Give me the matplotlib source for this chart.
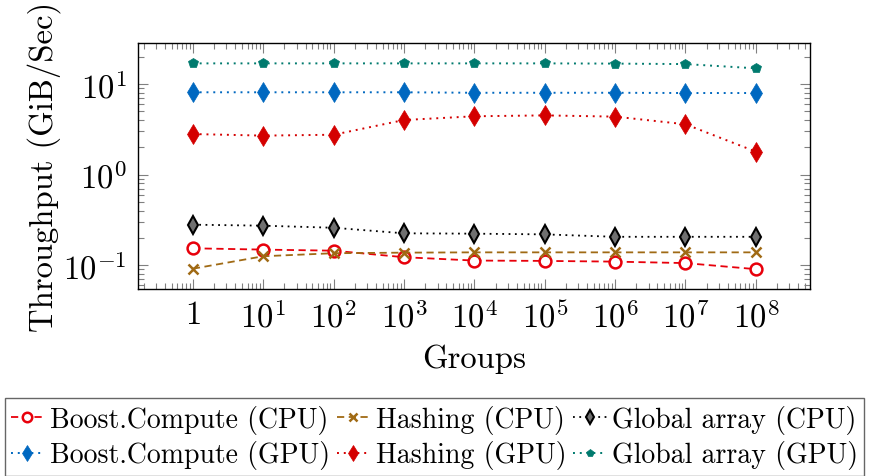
import matplotlib
matplotlib.use("Agg")
import matplotlib.pyplot as plt
from matplotlib.ticker import LogLocator, FixedLocator, FixedFormatter, NullFormatter

plt.rcParams['font.family'] = ['cmr10', 'DejaVu Serif']
plt.rcParams['mathtext.fontset'] = 'cm'
plt.rcParams['axes.unicode_minus'] = False
plt.rcParams['axes.formatter.use_mathtext'] = True

groups = [1, 1e1, 1e2, 1e3, 1e4, 1e5, 1e6, 1e7, 1e8]
x_labels = ['1', '$10^{1}$', '$10^{2}$', '$10^{3}$', '$10^{4}$', '$10^{5}$', '$10^{6}$', '$10^{7}$', '$10^{8}$']
y_ticks = [0.1, 1, 10]
y_labels = ['$10^{-1}$', '$10^{0}$', '$10^{1}$']

boost_cpu = [0.153, 0.148, 0.144, 0.122, 0.112, 0.111, 0.109, 0.105, 0.090]
hash_cpu = [0.091, 0.125, 0.135, 0.137, 0.138, 0.138, 0.138, 0.138, 0.138]
glob_cpu = [0.279, 0.272, 0.258, 0.224, 0.222, 0.218, 0.205, 0.205, 0.205]
boost_gpu = [8.1, 8.1, 8.1, 8.1, 8.0, 8.0, 8.0, 7.95, 7.95]
hash_gpu = [2.80, 2.69, 2.75, 4.0, 4.4, 4.5, 4.36, 3.59, 1.79]
glob_gpu = [16.9, 16.9, 16.9, 16.9, 16.9, 16.9, 16.8, 16.6, 14.9]

fig = plt.figure(figsize=(8.69, 4.77), dpi=100)
ax = fig.add_axes([138/869, 1-290/477, (810-138)/869, (290-44)/477])
ax.set_xscale('log')
ax.set_yscale('log')

fs = 23.5
lfs = 20
l1, = ax.plot(groups, boost_cpu, linestyle=(0, (4, 2.5)), color='#e8000b', lw=1.3,
              marker='o', markersize=8.5, markerfacecolor='white', markeredgewidth=1.8, label='Boost.Compute (CPU)')
l2, = ax.plot(groups, hash_cpu, linestyle=(0, (4, 2.5)), color='#a06a14', lw=1.3,
              marker='x', markersize=6.5, markeredgewidth=1.8, label='Hashing (CPU)')
l3, = ax.plot(groups, glob_cpu, linestyle=(0, (1, 2.5)), color='black', lw=1.3,
              marker='d', markersize=9, markerfacecolor='#707070', markeredgewidth=1.5, label='Global array (CPU)')
l4, = ax.plot(groups, boost_gpu, linestyle=(0, (1, 2.5)), color='#0068c0', lw=1.4,
              marker='d', markersize=10, markeredgewidth=0.5, label='Boost.Compute (GPU)')
l5, = ax.plot(groups, hash_gpu, linestyle=(0, (1, 2.5)), color='#d40000', lw=1.4,
              marker='d', markersize=10, markeredgewidth=0.5, label='Hashing (GPU)')
l6, = ax.plot(groups, glob_gpu, linestyle=(0, (1, 2.5)), color='#007a6e', lw=1.4,
              marker='p', markersize=7, markeredgewidth=0.5, label='Global array (GPU)')

ax.set_xlim(10**-0.78, 10**8.77)
ax.set_ylim(10**-1.265, 10**1.453)

ax.xaxis.set_major_locator(FixedLocator(groups))
ax.xaxis.set_major_formatter(FixedFormatter(x_labels))
ax.xaxis.set_minor_locator(LogLocator(base=10, subs=range(2, 10), numticks=100))
ax.xaxis.set_minor_formatter(NullFormatter())
ax.yaxis.set_major_locator(FixedLocator(y_ticks))
ax.yaxis.set_major_formatter(FixedFormatter(y_labels))
ax.yaxis.set_minor_locator(LogLocator(base=10, subs=range(2, 10), numticks=100))
ax.yaxis.set_minor_formatter(NullFormatter())

ax.tick_params(which='both', direction='in', top=True, right=True, color='#808080', width=0.8)
ax.tick_params(which='major', length=7, labelsize=fs, pad=8)
ax.tick_params(which='minor', length=4)
for s in ax.spines.values():
    s.set_linewidth(1.0)

ax.set_xlabel('Groups', fontsize=fs, labelpad=8)
ax.set_ylabel('Throughput (GiB/Sec)', fontsize=fs, labelpad=2)

handles = [l1, l4, l2, l5, l3, l6]
leg = fig.legend(handles=handles, loc='center', bbox_to_anchor=(434.5/869, 1-438/477),
                 ncol=3, fontsize=lfs, frameon=True, fancybox=False, edgecolor='#404040',
                 handlelength=1.2, handletextpad=0.2, columnspacing=0.25, labelspacing=0.25,
                 borderpad=0.22, borderaxespad=0, markerscale=0.8)
leg.get_frame().set_linewidth(1.0)

fig.savefig('out.png', dpi=100)
